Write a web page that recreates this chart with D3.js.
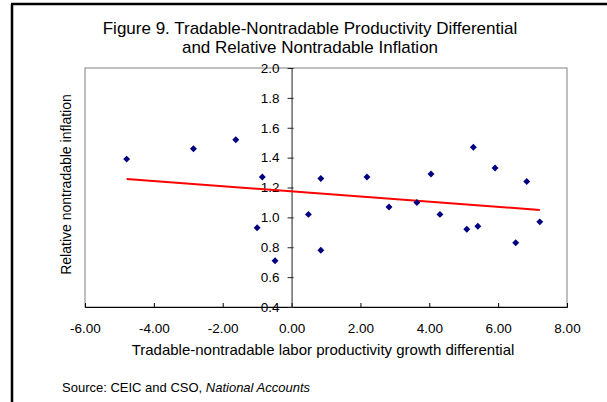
<!DOCTYPE html>
<html>
<head>
<meta charset="utf-8">
<script src="https://cdn.jsdelivr.net/npm/d3@7.9.0/dist/d3.min.js"></script>
<style>
  body { margin: 0; background: #fff; }
  svg { font-family: Arial, "Liberation Sans", sans-serif; }
</style>
</head>
<body>
<svg id="chart"></svg>
<script>
// Values
const diffX = [-4.79, -2.85, -1.62, -0.85, -1.0, -0.48, 0.49, 0.85, 0.85, 2.19,
  2.83, 3.64, 4.05, 4.31, 5.09, 5.28, 5.41, 5.91, 6.51, 6.83, 7.21];
const inflY = [1.39, 1.46, 1.52, 1.27, 0.93, 0.71, 1.02, 1.26, 0.78, 1.27,
  1.07, 1.10, 1.29, 1.02, 0.92, 1.47, 0.94, 1.33, 0.83, 1.24, 0.97];

// linear trendline as drawn in the picture (start and end)
const trendX = [-4.79, 7.21];
const trendY = [1.257, 1.05];

const xTicks = [-6, -4, -2, 0, 2, 4, 6, 8];
const yTicks = [0.4, 0.6, 0.8, 1.0, 1.2, 1.4, 1.6, 1.8, 2.0];

const width = 607;
const height = 402;
const plot = { left: 85, right: 567, top: 68, bottom: 307 };

const svg = d3.select('#chart').attr('width', width).attr('height', height);

// outer frame (only left and top edges are visible)
svg.append('line').attr('x1', 12).attr('x2', 12).attr('y1', 4).attr('y2', height)
  .attr('stroke', '#000').attr('stroke-width', 2.5);
svg.append('line').attr('x1', 11).attr('x2', width).attr('y1', 4).attr('y2', 4)
  .attr('stroke', '#000').attr('stroke-width', 2.5);

// title
const title = svg.append('text').attr('text-anchor', 'middle')
  .style('font-size', '17px').attr('fill', '#000');
title.append('tspan').attr('x', 310).attr('y', 34)
  .text('Figure 9. Tradable-Nontradable Productivity Differential');
title.append('tspan').attr('x', 310).attr('y', 53)
  .text('and Relative Nontradable Inflation');

const xScale = d3.scaleLinear().domain([-6, 8]).range([plot.left, plot.right]);
const yScale = d3.scaleLinear().domain([0.4, 2.0]).range([plot.bottom, plot.top]);

// plot area border
svg.append('rect')
  .attr('x', plot.left).attr('y', plot.top)
  .attr('width', plot.right - plot.left).attr('height', plot.bottom - plot.top)
  .attr('fill', 'none').attr('stroke', '#808080').attr('stroke-width', 1);

// x axis along the bottom, ticks pointing up
const xAxis = d3.axisBottom(xScale).tickValues(xTicks)
  .tickSize(-4).tickFormat((d) => d.toFixed(2));
const gx = svg.append('g')
  .attr('transform', `translate(0, ${plot.bottom})`)
  .call(xAxis);
gx.select('.domain').attr('stroke', '#000');
gx.selectAll('.tick line').attr('stroke', '#000');
gx.selectAll('.tick text').style('font-size', '13.5px').attr('fill', '#000')
  .attr('y', 16).attr('dy', '0.71em');

// y axis crosses at x = 0
const yAxis = d3.axisLeft(yScale).tickValues(yTicks)
  .tickSizeInner(4).tickSizeOuter(0).tickPadding(8).tickFormat((d) => d.toFixed(1));
const gy = svg.append('g')
  .attr('transform', `translate(${xScale(0)}, 0)`)
  .call(yAxis);
gy.select('.domain').attr('stroke', '#222');
gy.selectAll('.tick line').attr('stroke', '#222').attr('x2', -4).attr('x1', 2);
gy.selectAll('.tick text').style('font-size', '13.5px').attr('fill', '#000');

// trendline
svg.append('path')
  .datum(trendX.map((x, i) => [x, trendY[i]]))
  .attr('d', d3.line().x((d) => xScale(d[0])).y((d) => yScale(d[1])))
  .attr('fill', 'none').attr('stroke', '#ff0000').attr('stroke-width', 2);

// scatter points: square diamonds
svg.selectAll('path.pt')
  .data(diffX.map((x, i) => [x, inflY[i]]))
  .join('path')
  .attr('class', 'pt')
  .attr('d', d3.symbol(d3.symbolSquare, 24))
  .attr('transform', (d) => `translate(${xScale(d[0])}, ${yScale(d[1])}) rotate(45)`)
  .attr('fill', '#000080');

// axis titles
svg.append('text')
  .attr('transform', `translate(71, ${(plot.top + plot.bottom) / 2 - 3}) rotate(-90)`)
  .attr('text-anchor', 'middle').style('font-size', '14px')
  .text('Relative nontradable inflation');

svg.append('text')
  .attr('x', 323).attr('y', 355)
  .attr('text-anchor', 'middle').style('font-size', '15px')
  .text('Tradable-nontradable labor productivity growth differential');

// source note
const src = svg.append('text').attr('x', 62).attr('y', 392).style('font-size', '13px');
src.append('tspan').text('Source: CEIC and CSO, ');
src.append('tspan').style('font-style', 'italic').text('National Accounts');
</script>
</body>
</html>
